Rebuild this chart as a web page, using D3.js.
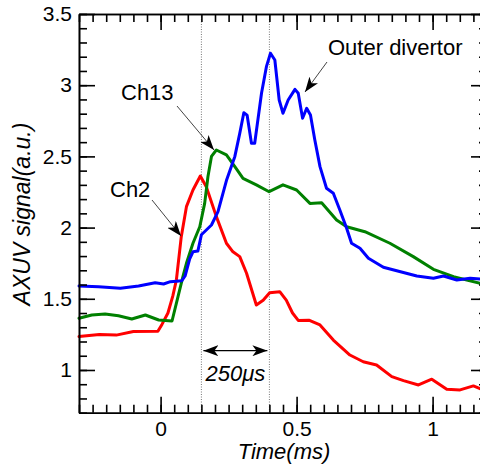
<!DOCTYPE html>
<html>
<head>
<meta charset="utf-8">
<script src="https://cdn.jsdelivr.net/npm/d3@7"></script>
<style>
  body { margin: 0; background: #fff; }
  svg { display: block; font-family: "Liberation Sans", Arial, sans-serif; }
</style>
</head>
<body>
<div id="chart"></div>
<script>
// Data: [time (ms), signal (a.u.)]
const ch2 = [
  [-0.3, 1.235], [-0.225, 1.25], [-0.163, 1.245], [-0.1, 1.27], [-0.01, 1.272],
  [0.005, 1.32], [0.027, 1.4], [0.045, 1.52], [0.058, 1.632], [0.076, 1.936],
  [0.095, 2.147], [0.119, 2.264], [0.146, 2.362], [0.168, 2.287], [0.205, 2.077],
  [0.242, 1.89], [0.266, 1.83], [0.291, 1.796], [0.316, 1.679], [0.352, 1.456],
  [0.377, 1.49], [0.401, 1.543], [0.438, 1.55], [0.462, 1.49], [0.485, 1.4],
  [0.506, 1.348], [0.545, 1.35], [0.586, 1.316], [0.635, 1.21], [0.696, 1.105],
  [0.745, 1.058], [0.794, 1.035], [0.85, 0.953], [0.893, 0.925], [0.948, 0.895],
  [0.997, 0.935], [1.052, 0.864], [1.101, 0.86], [1.15, 0.888], [1.2, 0.85]
];
const ch13 = [
  [-0.3, 1.363], [-0.253, 1.386], [-0.204, 1.393], [-0.155, 1.381], [-0.106, 1.358],
  [-0.056, 1.386], [-0.007, 1.351], [0.042, 1.344], [0.064, 1.515], [0.082, 1.655],
  [0.095, 1.749], [0.119, 1.89], [0.144, 2.006], [0.162, 2.17], [0.174, 2.357],
  [0.187, 2.5], [0.205, 2.545], [0.242, 2.51], [0.273, 2.428], [0.303, 2.346],
  [0.352, 2.3], [0.399, 2.252], [0.45, 2.3], [0.5, 2.264], [0.549, 2.17],
  [0.592, 2.175], [0.647, 2.053], [0.684, 2.006], [0.751, 1.971], [0.843, 1.89],
  [0.929, 1.796], [1.003, 1.707], [1.077, 1.655], [1.175, 1.609], [1.2, 1.6]
];
const outer = [
  [-0.3, 1.59], [-0.228, 1.585], [-0.148, 1.574], [-0.081, 1.59], [-0.02, 1.613],
  [0.011, 1.604], [0.036, 1.62], [0.078, 1.627], [0.09, 1.66], [0.107, 1.78],
  [0.119, 1.83], [0.137, 1.835], [0.15, 1.95], [0.187, 2.018], [0.211, 2.112],
  [0.242, 2.33], [0.273, 2.5], [0.291, 2.662], [0.306, 2.807], [0.318, 2.79],
  [0.334, 2.592], [0.346, 2.592], [0.371, 2.943], [0.389, 3.13], [0.404, 3.224],
  [0.42, 3.177], [0.436, 2.896], [0.45, 2.803], [0.469, 2.896], [0.494, 2.971],
  [0.506, 2.943], [0.522, 2.768], [0.537, 2.838], [0.551, 2.79], [0.567, 2.615],
  [0.586, 2.428], [0.61, 2.276], [0.635, 2.241], [0.659, 2.124], [0.684, 1.995],
  [0.702, 1.89], [0.733, 1.855], [0.764, 1.785], [0.819, 1.721], [0.868, 1.697],
  [0.942, 1.66], [1.003, 1.644], [1.04, 1.66], [1.089, 1.632], [1.138, 1.644],
  [1.2, 1.635]
];

const xTicks = [0, 0.5, 1];
const yTicks = [1, 1.5, 2, 2.5, 3, 3.5];
const markerTimes = [0.15, 0.4];   // dotted lines, 250 us apart

const series = [
  { name: "Ch2", values: ch2, color: "#ff0000" },
  { name: "Ch13", values: ch13, color: "#008000" },
  { name: "Outer divertor", values: outer, color: "#0000ff" }
];

// Dimensions
const width = 480;
const height = 473;
const margin = { top: 14, right: -7, bottom: 60.3, left: 79 };

const x = d3.scaleLinear()
  .domain([-0.3, 1.2])
  .range([margin.left, width - margin.right]);
const y = d3.scaleLinear()
  .domain([0.7, 3.5])
  .range([height - margin.bottom, margin.top]);

const svg = d3.select("#chart")
  .append("svg")
    .attr("width", width)
    .attr("height", height);

const defs = svg.append("defs");
defs.append("marker")
    .attr("id", "head")
    .attr("viewBox", "0 0 15 11")
    .attr("refX", 15)
    .attr("refY", 5.5)
    .attr("markerWidth", 15)
    .attr("markerHeight", 11)
    .attr("markerUnits", "userSpaceOnUse")
    .attr("orient", "auto-start-reverse")
  .append("path")
    .attr("d", "M0,0 L15,5.5 L0,11 L4,5.5 Z")
    .attr("fill", "#000");

// Dotted time markers
svg.append("g")
  .selectAll("line")
  .data(markerTimes)
  .join("line")
    .attr("x1", d => x(d))
    .attr("x2", d => x(d))
    .attr("y1", y(3.5))
    .attr("y2", y(0.7))
    .attr("stroke", "#777")
    .attr("stroke-width", 1)
    .attr("stroke-dasharray", "1 1.5");

// Curves
const line = d3.line()
  .x(d => x(d[0]))
  .y(d => y(d[1]));

svg.append("g")
    .attr("fill", "none")
    .attr("stroke-width", 3)
    .attr("stroke-linejoin", "round")
    .attr("stroke-linecap", "round")
  .selectAll("path")
  .data(series)
  .join("path")
    .attr("stroke", d => d.color)
    .attr("d", d => line(d.values));

// Axes (ticks inward on all four sides)
const plotBottom = y(0.7);
const plotTop = y(3.5);
const plotLeft = x(-0.3);
const plotRight = x(1.2);
const xMinor = d3.range(-0.3, 1.2001, 0.05).map(d => +d.toFixed(2));
const yMinor = d3.range(0.7, 3.5001, 0.1).map(d => +d.toFixed(1));

const styleAxis = g => {
  g.select(".domain").attr("stroke", "#000").attr("stroke-width", 1.6);
  g.selectAll(".tick line").attr("stroke", "#000").attr("stroke-width", 1.6);
  g.selectAll(".tick text")
    .attr("fill", "#000")
    .style("font-size", "21px")
    .style("font-family", "'Liberation Sans', Arial, sans-serif");
};

svg.append("g")
    .attr("transform", `translate(0,${plotBottom})`)
    .call(d3.axisBottom(x).tickValues(xMinor).tickSize(-8).tickSizeOuter(0).tickFormat(""))
    .call(styleAxis);
svg.append("g")
    .attr("transform", `translate(0,${plotBottom})`)
    .call(d3.axisBottom(x).tickValues(xTicks).tickSize(-16).tickSizeOuter(0)
      .tickPadding(8).tickFormat(d3.format("")))
    .call(styleAxis);
svg.append("g")
    .attr("transform", `translate(0,${plotTop})`)
    .call(d3.axisTop(x).tickValues(xMinor).tickSize(-8).tickSizeOuter(0).tickFormat(""))
    .call(styleAxis);
svg.append("g")
    .attr("transform", `translate(0,${plotTop})`)
    .call(d3.axisTop(x).tickValues(xTicks).tickSize(-16).tickSizeOuter(0).tickFormat(""))
    .call(styleAxis);

svg.append("g")
    .attr("transform", `translate(${plotLeft},0)`)
    .call(d3.axisLeft(y).tickValues(yMinor).tickSize(-8).tickSizeOuter(0).tickFormat(""))
    .call(styleAxis);
svg.append("g")
    .attr("transform", `translate(${plotLeft},0)`)
    .call(d3.axisLeft(y).tickValues(yTicks).tickSize(-16).tickSizeOuter(0)
      .tickPadding(7).tickFormat(d3.format("")))
    .call(styleAxis);
svg.append("g")
    .attr("transform", `translate(${plotRight},0)`)
    .call(d3.axisRight(y).tickValues(yMinor).tickSize(-8).tickSizeOuter(0).tickFormat(""))
    .call(styleAxis);
svg.append("g")
    .attr("transform", `translate(${plotRight},0)`)
    .call(d3.axisRight(y).tickValues(yTicks).tickSize(-16).tickSizeOuter(0).tickFormat(""))
    .call(styleAxis);

// Axis titles
svg.append("text")
    .attr("x", 284)
    .attr("y", 459)
    .attr("text-anchor", "middle")
    .style("font-size", "22px")
    .style("font-style", "italic")
    .text("Time(ms)");
svg.append("text")
    .attr("transform", "translate(30,214) rotate(-90)")
    .attr("text-anchor", "middle")
    .style("font-size", "23px")
    .style("font-style", "italic")
    .text("AXUV signal(a.u.)");

// Annotations with arrows
const notes = [
  { label: "Ch2", tx: 110, ty: 197, from: [152, 200], to: [181, 236] },
  { label: "Ch13", tx: 121, ty: 100, from: [177, 106], to: [214, 150] },
  { label: "Outer divertor", tx: 328, ty: 55, from: [327, 62], to: [305, 92] }
];
const noteG = svg.append("g");
noteG.selectAll("text")
  .data(notes)
  .join("text")
    .attr("x", d => d.tx)
    .attr("y", d => d.ty)
    .style("font-size", "22px")
    .text(d => d.label);
noteG.selectAll("line")
  .data(notes)
  .join("line")
    .attr("x1", d => d.from[0])
    .attr("y1", d => d.from[1])
    .attr("x2", d => d.to[0])
    .attr("y2", d => d.to[1])
    .attr("stroke", "#444")
    .attr("stroke-width", 1)
    .attr("marker-end", "url(#head)");

// 250 us double arrow between the dotted lines
const arrowY = 350.7;
svg.append("line")
    .attr("x1", x(markerTimes[0]) + 2)
    .attr("x2", x(markerTimes[1]) - 2)
    .attr("y1", arrowY)
    .attr("y2", arrowY)
    .attr("stroke", "#000")
    .attr("stroke-width", 1.2)
    .attr("marker-start", "url(#head)")
    .attr("marker-end", "url(#head)");
svg.append("text")
    .attr("x", (x(markerTimes[0]) + x(markerTimes[1])) / 2)
    .attr("y", 381)
    .attr("text-anchor", "middle")
    .style("font-size", "22px")
    .style("font-style", "italic")
    .text("250\u03bcs");
</script>
</body>
</html>
